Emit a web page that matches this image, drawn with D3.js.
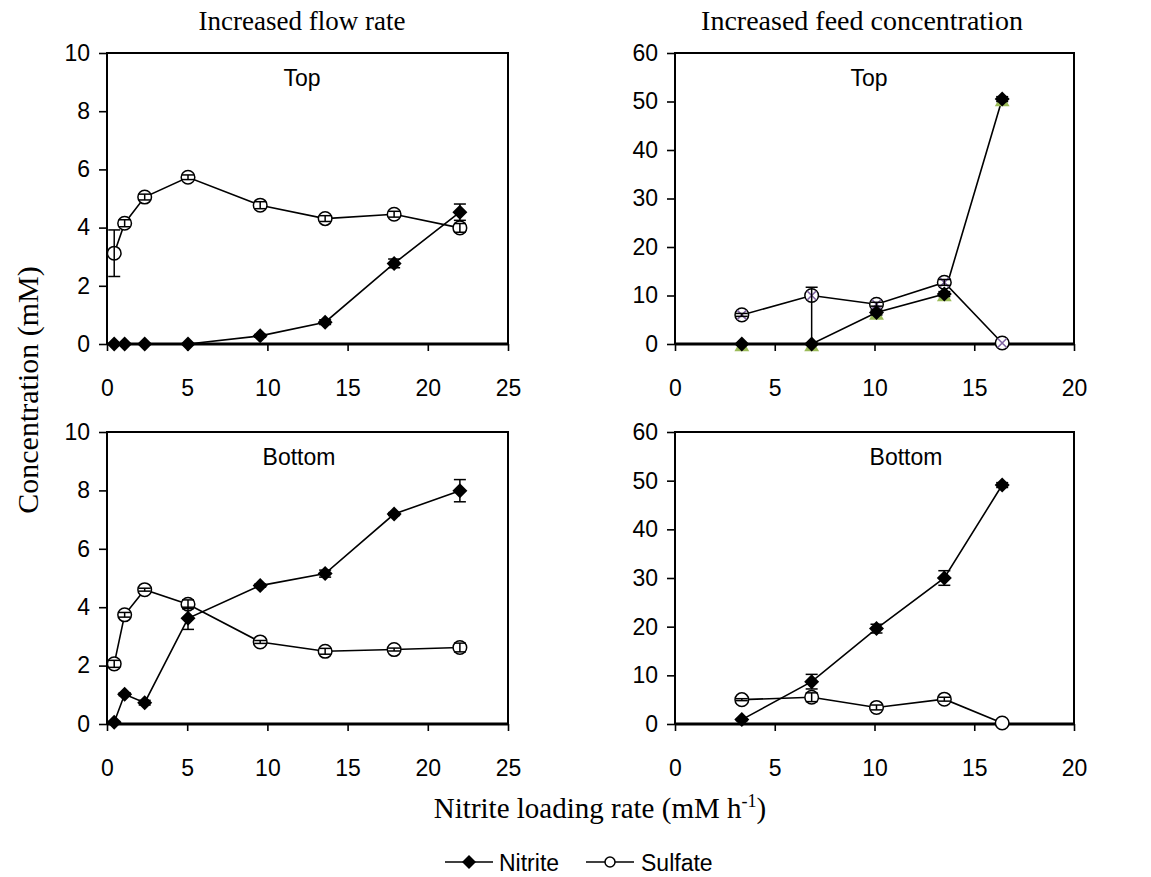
<!DOCTYPE html>
<html>
<head>
<meta charset="utf-8">
<script src="https://cdn.jsdelivr.net/npm/d3@7"></script>
<style>
  body { margin: 0; background: #fff; }
  svg { display: block; }
</style>
</head>
<body>
<svg id="chart" width="1151" height="877"></svg>
<script>
// loading rates (x) for the two experiments
var flowRate = [0.45, 1.1, 2.35, 5.05, 9.55, 13.6, 17.9, 22.0];
var feedRate = [3.35, 6.85, 10.1, 13.5, 16.4];

// increased flow rate, top / bottom
var flowTopNitrite    = [0, 0, 0, 0, 0.28, 0.75, 2.77, 4.53];
var flowTopNitriteErr = [0, 0, 0, 0, 0.05, 0.08, 0.15, 0.28];
var flowTopSulfate    = [3.12, 4.15, 5.05, 5.73, 4.77, 4.31, 4.46, 3.99];
var flowTopSulfateErr = [0.8, 0.12, 0.1, 0.08, 0.12, 0.1, 0.1, 0.15];
var flowBotNitrite    = [0.06, 1.02, 0.73, 3.62, 4.74, 5.15, 7.19, 7.99];
var flowBotNitriteErr = [0.03, 0.05, 0.08, 0.38, 0.05, 0.12, 0.05, 0.38];
var flowBotSulfate    = [2.06, 3.74, 4.6, 4.1, 2.81, 2.49, 2.55, 2.62];
var flowBotSulfateErr = [0.12, 0.08, 0.05, 0.15, 0.05, 0.1, 0.05, 0.15];

// increased feed concentration, top / bottom
var feedTopNitrite    = [0, 0, 6.5, 10.3, 50.5];
var feedTopNitriteErr = [0, 0, 0.5, 0.5, 0.5];
var feedTopSulfate    = [6.0, 10.0, 8.2, 12.7, 0.2];
var feedTopSulfateErr = [0.3, [9.9, 1.7], 0.4, 0.6, 0];   // [down, up] where uneven
var feedTopExtraA     = [-0.6, -0.6, 5.9, 9.7, 49.9];    // green triangles behind diamonds
var feedTopExtraB     = [6.0, 10.0, 8.2, 12.7, 0.2];     // purple crosses on circles
var feedBotNitrite    = [0.9, 8.7, 19.6, 30.0, 49.1];
var feedBotNitriteErr = [0.2, 1.5, 0.9, 1.5, 0.5];
var feedBotSulfate    = [5.0, 5.5, 3.4, 5.1, 0.2];
var feedBotSulfateErr = [0.2, 0.9, 0.5, 0.4, 0];

var flowTicksX = [0, 5, 10, 15, 20, 25];
var feedTicksX = [0, 5, 10, 15, 20];
var flowTicksY = [0, 2, 4, 6, 8, 10];
var feedTicksY = [0, 10, 20, 30, 40, 50, 60];

var SANS = "'Liberation Sans', Arial, sans-serif";
var SERIF = "'Liberation Serif', 'Times New Roman', serif";

var svg = d3.select("#chart");

var panels = [
  {left: 107, right: 508, top: 53, bottom: 344, xs: flowTicksX, ys: flowTicksY, label: "Top", labelX: 302,
   x: flowRate, nit: flowTopNitrite, nitErr: flowTopNitriteErr, sul: flowTopSulfate, sulErr: flowTopSulfateErr},
  {left: 675, right: 1074, top: 53, bottom: 344, xs: feedTicksX, ys: feedTicksY, label: "Top", labelX: 869,
   x: feedRate, nit: feedTopNitrite, nitErr: feedTopNitriteErr, sul: feedTopSulfate, sulErr: feedTopSulfateErr,
   extraA: feedTopExtraA, extraB: feedTopExtraB},
  {left: 107, right: 508, top: 432, bottom: 724, xs: flowTicksX, ys: flowTicksY, label: "Bottom", labelX: 299,
   x: flowRate, nit: flowBotNitrite, nitErr: flowBotNitriteErr, sul: flowBotSulfate, sulErr: flowBotSulfateErr},
  {left: 675, right: 1074, top: 432, bottom: 724, xs: feedTicksX, ys: feedTicksY, label: "Bottom", labelX: 906,
   x: feedRate, nit: feedBotNitrite, nitErr: feedBotNitriteErr, sul: feedBotSulfate, sulErr: feedBotSulfateErr}
];

function diamond(r) { return "M0," + (-r) + "L" + r + ",0L0," + r + "L" + (-r) + ",0Z"; }

panels.forEach(function(p) {
  var x = d3.scaleLinear().domain([0, d3.max(p.xs)]).range([p.left, p.right]);
  var y = d3.scaleLinear().domain([0, d3.max(p.ys)]).range([p.bottom, p.top]);
  var g = svg.append("g");

  // axes
  var ax = g.append("g").attr("transform", "translate(0," + p.bottom + ")")
    .call(d3.axisBottom(x).tickValues(p.xs).tickFormat(d3.format("d")).tickSize(7).tickPadding(29));
  var ay = g.append("g").attr("transform", "translate(" + p.left + ",0)")
    .call(d3.axisLeft(y).tickValues(p.ys).tickFormat(d3.format("d")).tickSize(8).tickPadding(9));
  [ax, ay].forEach(function(a) {
    a.select(".domain").remove();
    a.selectAll("line").attr("stroke", "#000").attr("stroke-width", 1.6);
    a.selectAll("text").attr("fill", "#000").style("font-family", SANS).style("font-size", "23px");
  });

  // frame
  g.append("rect").attr("x", p.left).attr("y", p.top)
    .attr("width", p.right - p.left).attr("height", p.bottom - p.top)
    .attr("fill", "none").attr("stroke", "#000").attr("stroke-width", 2);
  g.append("line").attr("x1", p.left).attr("x2", p.right).attr("y1", p.bottom).attr("y2", p.bottom)
    .attr("stroke", "#000").attr("stroke-width", 3);

  g.append("text").attr("x", p.labelX).attr("y", p.top + 33).attr("text-anchor", "middle")
    .style("font-family", SANS).style("font-size", "23px").text(p.label);

  var line = d3.line().x(function(d) { return x(d[0]); }).y(function(d) { return y(d[1]); });
  var sulPts = p.x.map(function(v, i) { return [v, p.sul[i], p.sulErr[i]]; });
  var nitPts = p.x.map(function(v, i) { return [v, p.nit[i], p.nitErr[i]]; });

  g.append("path").attr("d", line(sulPts)).attr("fill", "none").attr("stroke", "#000").attr("stroke-width", 1.6);
  g.append("path").attr("d", line(nitPts)).attr("fill", "none").attr("stroke", "#000").attr("stroke-width", 1.6);

  if (p.extraA) {
    g.selectAll(".tri").data(p.extraA).enter().append("path")
      .attr("transform", function(d, i) { return "translate(" + x(p.x[i]) + "," + y(d) + ")"; })
      .attr("d", d3.symbol().type(d3.symbolTriangle).size(95))
      .attr("fill", "#9bbb59");
  }

  g.selectAll(".sul").data(sulPts).enter().append("circle")
    .attr("cx", function(d) { return x(d[0]); }).attr("cy", function(d) { return y(d[1]); })
    .attr("r", 6.8).attr("fill", "#fff").attr("stroke", "#000").attr("stroke-width", 1.5);

  if (p.extraB) {
    p.extraB.forEach(function(d, i) {
      var cx = x(p.x[i]), cy = y(d), s = 4.5;
      g.append("path").attr("d", "M" + (cx - s) + "," + (cy - s) + "L" + (cx + s) + "," + (cy + s) +
        "M" + (cx - s) + "," + (cy + s) + "L" + (cx + s) + "," + (cy - s))
        .attr("stroke", "#8064a2").attr("stroke-width", 1.6);
    });
  }

  g.selectAll(".nit").data(nitPts).enter().append("path")
    .attr("transform", function(d) { return "translate(" + x(d[0]) + "," + y(d[1]) + ")"; })
    .attr("d", diamond(7.5)).attr("fill", "#000");

  // error bars
  sulPts.concat(nitPts).forEach(function(d) {
    var e = d[2];
    if (!e) return;
    var dn = Array.isArray(e) ? e[0] : e, up = Array.isArray(e) ? e[1] : e;
    var cx = x(d[0]), y1 = y(d[1] - dn), y2 = y(d[1] + up);
    g.append("line").attr("x1", cx).attr("x2", cx).attr("y1", y1).attr("y2", y2)
      .attr("stroke", "#000").attr("stroke-width", 1.5);
    [y1, y2].forEach(function(yy) {
      g.append("line").attr("x1", cx - 6).attr("x2", cx + 6).attr("y1", yy).attr("y2", yy)
        .attr("stroke", "#000").attr("stroke-width", 1.5);
    });
  });
});

// column titles
svg.append("text").attr("x", 302).attr("y", 30).attr("text-anchor", "middle")
  .style("font-family", SERIF).style("font-size", "27px").text("Increased flow rate");
svg.append("text").attr("x", 862).attr("y", 30).attr("text-anchor", "middle")
  .style("font-family", SERIF).style("font-size", "28px").text("Increased feed concentration");

// axis titles
svg.append("text").attr("transform", "translate(38,390) rotate(-90)").attr("text-anchor", "middle")
  .style("font-family", SERIF).style("font-size", "30px").text("Concentration (mM)");
var xt = svg.append("text").attr("x", 600).attr("y", 818).attr("text-anchor", "middle")
  .style("font-family", SERIF).style("font-size", "29px");
xt.append("tspan").text("Nitrite loading rate (mM h");
xt.append("tspan").attr("dy", -11).style("font-size", "18px").text("-1");
xt.append("tspan").attr("dy", 11).text(")");

// legend
var lg = svg.append("g");
lg.append("line").attr("x1", 445).attr("x2", 493).attr("y1", 862).attr("y2", 862).attr("stroke", "#000").attr("stroke-width", 1.6);
lg.append("path").attr("transform", "translate(469,862)").attr("d", diamond(7)).attr("fill", "#000");
lg.append("text").attr("x", 499).attr("y", 871).style("font-family", SANS).style("font-size", "23px").text("Nitrite");
lg.append("line").attr("x1", 586).attr("x2", 634).attr("y1", 862).attr("y2", 862).attr("stroke", "#000").attr("stroke-width", 1.6);
lg.append("circle").attr("cx", 610).attr("cy", 862).attr("r", 5).attr("fill", "#fff").attr("stroke", "#000").attr("stroke-width", 1.5);
lg.append("text").attr("x", 641).attr("y", 871).style("font-family", SANS).style("font-size", "23px").text("Sulfate");
</script>
</body>
</html>
